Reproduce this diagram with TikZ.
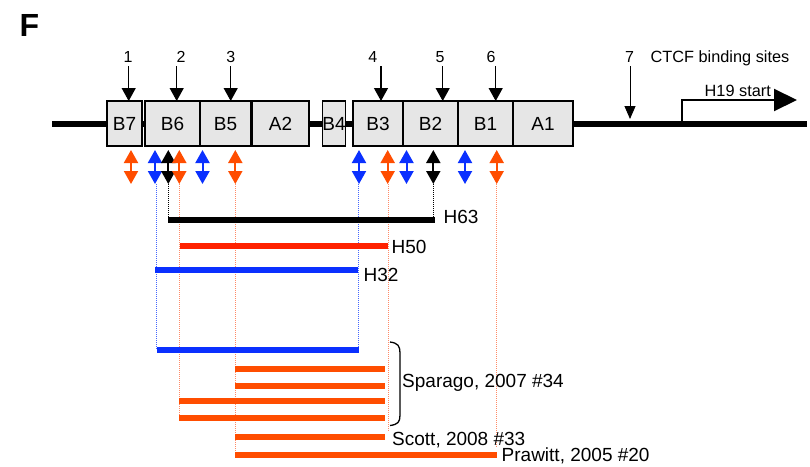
\documentclass[tikz,border=0pt]{standalone}
\usepackage{fontspec}
\setmainfont{Liberation Sans}
\usetikzlibrary{arrows.meta}
\definecolor{orng}{HTML}{FF4D00}
\definecolor{redb}{HTML}{FF2200}
\definecolor{blu}{HTML}{0A30FF}
\definecolor{boxgray}{HTML}{E6E6E6}
\definecolor{dotor}{HTML}{FF8A66}
\definecolor{dotbl}{HTML}{4466FF}
\begin{document}
\begin{tikzpicture}[x=1pt,y=-1pt,
  seg/.style={draw=black, line width=1.5pt, fill=boxgray, minimum height=45pt, inner sep=0pt,
    font=\fontsize{19}{19}\selectfont, text height=13.6pt, text depth=0pt},
  num/.style={inner sep=0pt, anchor=base, font=\fontsize{16}{16}\selectfont},
  lbl/.style={inner sep=0pt, anchor=base west, font=\fontsize{19}{19}\selectfont},
  slbl/.style={inner sep=0pt, anchor=base west, font=\fontsize{16.3}{16}\selectfont},
  downarr/.style={line width=1.3pt, -{Triangle[width=14pt,length=13pt]}},
  dbl/.style={line width=2pt, {Triangle[width=14pt,length=13pt]}-{Triangle[width=14pt,length=13pt]}},
  dotl/.style={line width=0.8pt, dash pattern=on 1pt off 1pt},
  bar/.style={line width=6pt},
]
\useasboundingbox (0,0) rectangle (810,466);

% panel letter
\node[inner sep=0pt, anchor=base west, font=\fontsize{32}{32}\selectfont\bfseries] (F) at (19.5,36) {F};

% main line
\draw[line width=6pt] (52,124) coordinate (lineL) -- (807,124) coordinate (lineR);

% boxes
\node[seg, minimum width=35pt] (B7) at (124.5,123.5) {B7};
\node[seg, minimum width=55pt] (B6) at (172.5,123.5) {B6};
\node[seg, minimum width=51pt] (B5) at (225.5,123.5) {B5};
\node[seg, minimum width=57pt] (A2) at (280.5,123.5) {A2};
\node[seg, minimum width=18pt] (B4) at (334,123.5) {B4};
\node[seg, minimum width=50pt] (B3) at (378,123.5) {B3};
\node[seg, minimum width=55pt] (B2) at (430.5,123.5) {B2};
\node[seg, minimum width=55pt] (B1) at (485.5,123.5) {B1};
\node[seg, minimum width=60pt] (A1) at (543,123.5) {A1};

% CTCF binding site arrows
\node[num] (n1) at (128,62.3) {1};
\node[num] (n2) at (181,62.3) {2};
\node[num] (n3) at (230.7,62.3) {3};
\node[num] (n4) at (372.7,62.3) {4};
\node[num] (n5) at (440,62.3) {5};
\node[num] (n6) at (491,62.3) {6};
\node[num] (n7) at (629.5,62.3) {7};
\draw[downarr] (128.7,66) -- (128.7,101);
\draw[downarr] (176.7,66) -- (176.7,101);
\draw[downarr] (230.7,66) -- (230.7,101);
\draw[downarr] (381,66) -- (381,101);
\draw[downarr] (442.7,66) -- (442.7,101);
\draw[downarr] (495.7,66) -- (495.7,101);
\draw[line width=1pt, -{Triangle[width=11pt,length=13pt]}] (630,66) -- (630,119);
\node[slbl] (ctcf) at (650.5,62) {CTCF binding sites};

% H19 start
\draw[line width=2pt, -{Triangle[width=22pt,length=23pt]}] (682,122) |- (797,100);
\node[slbl] (h19) at (704.5,96.7) {H19 start};

% double arrows
\draw[dbl, orng] (131,150) -- (131,184);
\draw[dbl, blu] (155,150) -- (155,184);
\draw[dbl, black] (168.3,150) -- (168.3,184);
\draw[dbl, orng] (179.3,150) -- (179.3,184);
\draw[dbl, blu] (202.5,150) -- (202.5,184);
\draw[dbl, orng] (235.3,150) -- (235.3,184);
\draw[dbl, blu] (359,150) -- (359,184);
\draw[dbl, orng] (387.7,150) -- (387.7,184);
\draw[dbl, blu] (406.5,150) -- (406.5,184);
\draw[dbl, black] (433.3,150) -- (433.3,184);
\draw[dbl, blu] (465,150) -- (465,184);
\draw[dbl, orng] (496.7,150) -- (496.7,184);

% dotted guide lines
\draw[dotl, dotbl] (156.5,184) -- (156.5,350);
\draw[dotl, black] (168,184) -- (168,220);
\draw[dotl, dotor] (179.3,184) -- (179.3,418);
\draw[dotl, dotor] (235,184) -- (235,455);
\draw[dotl, dotbl] (358.5,184) -- (358.5,350);
\draw[dotl, dotor] (388,184) -- (388,432);
\draw[dotl, black] (433.3,184) -- (433.3,220);
\draw[dotl, dotor] (496.5,184) -- (496.5,448);

% bars
\draw[bar, black] (168,220) -- (435,220);
\node[lbl] (H63) at (443.5,223.3) {H63};
\draw[bar, redb] (180,246) -- (388,246);
\node[lbl] (H50) at (391.5,253.3) {H50};
\draw[bar, blu] (155,270) -- (358,270);
\node[lbl] (H32) at (363.5,281) {H32};

\draw[bar, blu] (157,350) -- (359,350);
\draw[bar, orng] (235,369) -- (385,369);
\draw[bar, orng] (235,386) -- (385,386);
\draw[bar, orng] (179,401) -- (385,401);
\draw[bar, orng] (179,418) -- (385,418);
\draw[bar, orng] (235,437) -- (385,437);
\draw[bar, orng] (235,454.5) -- (497,454.5);

% bracket
\draw[line width=1.3pt] (390,342) .. controls (398,343) and (400,346) .. (400,353)
  -- (400,415) .. controls (400,422) and (398,424.5) .. (390,425.5);
\node[lbl] (spar) at (402,387.3) {Sparago, 2007 \#34};
\node[lbl] (scott) at (392,445) {Scott, 2008 \#33};
\node[lbl] (praw) at (501.5,461.5) {Prawitt, 2005 \#20};
\end{tikzpicture}
\end{document}
